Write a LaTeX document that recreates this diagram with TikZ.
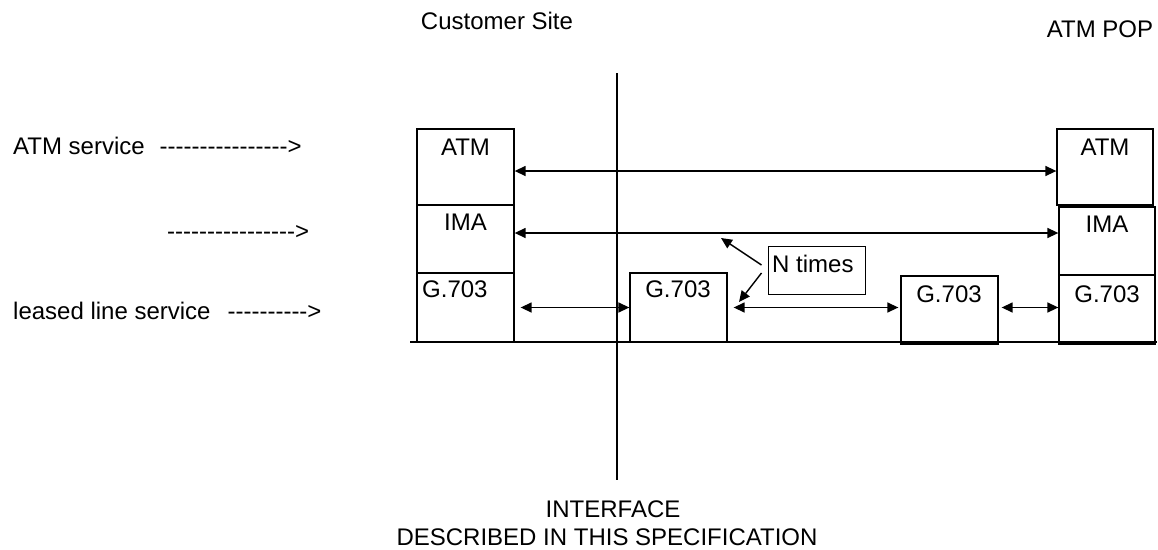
\documentclass[tikz,border=0pt]{standalone}
\usepackage{fontspec}
\newfontfamily\arial{Liberation Sans}
\usetikzlibrary{arrows.meta,calc}
\begin{document}
\begin{tikzpicture}[x=1pt,y=-1pt,
  txt/.style={font=\arial\fontsize{24}{28}\selectfont, inner sep=0pt},
  box/.style={draw, line width=1.3pt, inner sep=0pt},
  tip/.style={},
  dbl/.style={line width=1.4pt, {Triangle[length=11pt,width=10pt]}-{Triangle[length=11pt,width=10pt]}},
  ptr/.style={line width=1.4pt, -{Triangle[length=11pt,width=10pt]}},
  plain/.style={line width=1.3pt}]
\useasboundingbox (0,0) rectangle (1158,549);

% top and bottom texts
\node[txt, anchor=base] (cs) at (497,29) {Customer Site};
\node[txt, anchor=base] (pop) at (1100,37) {ATM POP};
\node[txt, anchor=base] (if1) at (613,517) {INTERFACE};
\node[txt, anchor=base] (if2) at (607,545) {DESCRIBED IN THIS SPECIFICATION};

% left labels
\node[txt, anchor=base west] (l1) at (13,154) {ATM service\hspace{15pt}----------------{>}};
\node[txt, anchor=base west] (l2) at (167,239) {----------------{>}};
\node[txt, anchor=base west] (l3) at (13,319) {leased line service\hspace{17pt}----------{>}};

% interface line and baseline
\coordinate (vt) at (617,73);
\coordinate (vb) at (617,480);
\draw[plain] (vt) -- (vb);
\coordinate (bl) at (410,342);
\coordinate (br) at (1157,342);
\draw[plain] (bl) -- (br);

% boxes
\node[box, minimum width=97pt, minimum height=76pt] (latm) at (465.5,167) {};
\node[box, minimum width=97pt, minimum height=68pt] (lima) at (465.5,239) {};
\node[box, minimum width=97pt, minimum height=69pt] (lg) at (465.5,307.5) {};
\node[box, minimum width=97pt, minimum height=69pt] (mg) at (678.5,307.5) {};
\node[box, minimum width=97pt, minimum height=68pt] (tg) at (949.5,310) {};
\node[box, minimum width=96pt, minimum height=76pt] (ratm) at (1105,167) {};
\node[box, minimum width=96pt, minimum height=68pt] (rima) at (1107,241) {};
\node[box, minimum width=96pt, minimum height=69pt] (rg) at (1107,309.5) {};

% box labels
\node[txt, anchor=base] (tlatm) at (465.5,155) {ATM};
\node[txt, anchor=base] (tlima) at (465.5,230) {IMA};
\node[txt, anchor=base west] (tlg) at (422,297) {G.703};
\node[txt, anchor=base] (tmg) at (678,297) {G.703};
\node[txt, anchor=base] (ttg) at (949,302) {G.703};
\node[txt, anchor=base] (tratm) at (1105,155) {ATM};
\node[txt, anchor=base] (trima) at (1107,232) {IMA};
\node[txt, anchor=base] (trg) at (1107,302) {G.703};

% N times box
\node[box, line width=1pt, minimum width=97pt, minimum height=48pt] (nt) at (816.5,270) {};
\node[txt, anchor=base west] (tnt) at (772,272) {N times};

% connectors
\coordinate (a1) at ([yshift=-4pt]latm.east);
\draw[dbl] (a1) -- (a1 -| ratm.west);
\coordinate (a2) at ([yshift=6pt]lima.east);
\draw[dbl] (a2) -- (a2 -| rima.west);
\draw[dbl, shorten <=6pt] (lg.east) -- (lg.east -| mg.west);
\draw[dbl, shorten <=6pt, shorten >=2pt] (mg.east) -- (mg.east -| tg.west);
\draw[dbl, shorten <=3pt, shorten >=0pt] (tg.east |- mg.east) -- (mg.east -| rg.west);

% N times pointers
\coordinate (n1) at (721,238);
\coordinate (n2) at (739,302);
\draw[ptr] ([shift={(-6pt,5pt)}]nt.west) -- (n1);
\draw[ptr] ([shift={(-6pt,-3pt)}]nt.west) -- (n2);
\end{tikzpicture}
\end{document}
